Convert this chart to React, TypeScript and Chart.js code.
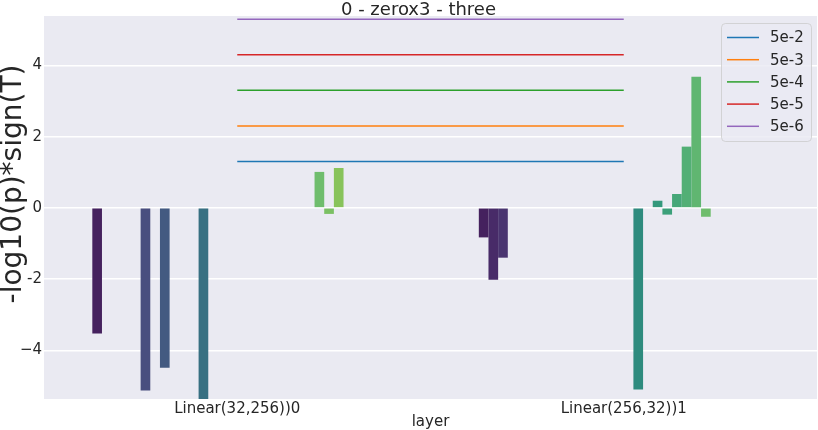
import React, { useEffect, useRef } from "react";
import { Chart, registerables } from "chart.js";

Chart.register(...registerables);

// ---------- data ----------
const categories = ["Linear(32,256))0", "Linear(256,32))1"];
const unitCount = 32;

// value per hue unit (index 0..31) for each layer; null = no bar
const layer0Values: (number | null)[] = [
  null, -3.53, null, null, null, null, -5.13, null,
  -4.49, null, null, null, -5.45, null, null, null,
  null, null, null, null, null, null, null, null,
  1.01, -0.17, 1.12, null, null, null, null, null,
];
const layer1Values: (number | null)[] = [
  null, -0.83, -2.02, -1.4, null, null, null, null,
  null, null, null, null, null, null, null, null,
  null, -5.1, null, 0.2, -0.19, 0.39, 1.72, 3.68,
  -0.25, null, null, null, null, null, null, null,
];

const thresholdLabels = ["5e-2", "5e-3", "5e-4", "5e-5", "5e-6"];
const thresholdValues = [1.301, 2.301, 3.301, 4.301, 5.301];

const yTickValues = [-4, -2, 0, 2, 4];
const yTickLabels = ["\u22124", "-2", "0", "2", "4"];

const titleText = "0 - zerox3 - three";
const xLabelText = "layer";
const yLabelText = "-log10(p)*sign(T)";

// ---------- styles ----------
const thresholdColors = ["#1f77b4", "#ff7f0e", "#2ca02c", "#d62728", "#9467bd"];
const FONT = "'DejaVu Sans', sans-serif";
const TEXT = "#262626";
const AX_BG = "#EAEAF2";

const viridisStops = [
  "#440154", "#471365", "#482475", "#463480", "#414487", "#3b528b", "#355f8d",
  "#2f6c8e", "#2a788e", "#25848e", "#21918c", "#1e9c89", "#22a884", "#2fb47c",
  "#44bf70", "#5ec962", "#7ad151", "#9bd93c", "#bddf26", "#dfe318", "#fde725",
];

function hexToRgb(h: string) {
  const n = parseInt(h.slice(1), 16);
  return [(n >> 16) & 255, (n >> 8) & 255, n & 255];
}

function viridis(t: number) {
  const p = t * (viridisStops.length - 1);
  const i = Math.min(Math.floor(p), viridisStops.length - 2);
  const f = p - i;
  const a = hexToRgb(viridisStops[i]);
  const b = hexToRgb(viridisStops[i + 1]);
  return [0, 1, 2].map((k) => (a[k] + (b[k] - a[k]) * f) / 255);
}

function desaturate(rgb: number[], prop: number) {
  const [r, g, b] = rgb;
  const max = Math.max(r, g, b), min = Math.min(r, g, b);
  const l = (max + min) / 2;
  let h = 0, s = 0;
  if (max !== min) {
    const d = max - min;
    s = l > 0.5 ? d / (2 - max - min) : d / (max + min);
    if (max === r) h = (g - b) / d + (g < b ? 6 : 0);
    else if (max === g) h = (b - r) / d + 2;
    else h = (r - g) / d + 4;
    h /= 6;
  }
  s *= prop;
  const hue2rgb = (p: number, q: number, t: number) => {
    if (t < 0) t += 1;
    if (t > 1) t -= 1;
    if (t < 1 / 6) return p + (q - p) * 6 * t;
    if (t < 1 / 2) return q;
    if (t < 2 / 3) return p + (q - p) * (2 / 3 - t) * 6;
    return p;
  };
  let out: number[];
  if (s === 0) out = [l, l, l];
  else {
    const q = l < 0.5 ? l * (1 + s) : l + s - l * s;
    const p = 2 * l - q;
    out = [hue2rgb(p, q, h + 1 / 3), hue2rgb(p, q, h), hue2rgb(p, q, h - 1 / 3)];
  }
  return `rgb(${out.map((v) => Math.round(v * 255)).join(",")})`;
}

function unitColor(i: number) {
  return desaturate(viridis((i + 1) / (unitCount + 1)), 0.75);
}

const decorPlugin = {
  id: "decor",
  beforeDraw(chart: any) {
    const { ctx, chartArea } = chart;
    ctx.save();
    ctx.fillStyle = "#ffffff";
    ctx.fillRect(0, 0, chart.width, chart.height);
    ctx.fillStyle = AX_BG;
    ctx.fillRect(chartArea.left, chartArea.top, chartArea.right - chartArea.left, chartArea.bottom - chartArea.top);
    ctx.restore();
  },
  afterDraw(chart: any) {
    const { ctx, chartArea } = chart;
    ctx.save();
    ctx.fillStyle = TEXT;
    // title
    ctx.font = `18px ${FONT}`;
    ctx.textAlign = "center";
    ctx.textBaseline = "alphabetic";
    ctx.fillText(titleText, 418.5, 15);
    // x label
    ctx.font = `15px ${FONT}`;
    ctx.fillText(xLabelText, (chartArea.left + chartArea.right) / 2, 426);
    // y label
    ctx.save();
    ctx.translate(21, 184);
    ctx.rotate(-Math.PI / 2);
    ctx.font = `28px ${FONT}`;
    ctx.fillText(yLabelText, 0, 0);
    ctx.restore();

    // legend
    const bx = 721.5, by = 23.5, bw = 90, bh = 118, r = 4;
    ctx.beginPath();
    ctx.moveTo(bx + r, by);
    ctx.lineTo(bx + bw - r, by);
    ctx.quadraticCurveTo(bx + bw, by, bx + bw, by + r);
    ctx.lineTo(bx + bw, by + bh - r);
    ctx.quadraticCurveTo(bx + bw, by + bh, bx + bw - r, by + bh);
    ctx.lineTo(bx + r, by + bh);
    ctx.quadraticCurveTo(bx, by + bh, bx, by + bh - r);
    ctx.lineTo(bx, by + r);
    ctx.quadraticCurveTo(bx, by, bx + r, by);
    ctx.closePath();
    ctx.fillStyle = "rgba(234,234,242,0.8)";
    ctx.fill();
    ctx.strokeStyle = "rgba(204,204,204,0.8)";
    ctx.lineWidth = 1;
    ctx.stroke();
    ctx.font = `15px ${FONT}`;
    ctx.textAlign = "left";
    ctx.textBaseline = "middle";
    thresholdLabels.forEach((lab, i) => {
      const y = 37.5 + i * 22.2;
      ctx.strokeStyle = thresholdColors[i];
      ctx.lineWidth = 1.5;
      ctx.beginPath();
      ctx.moveTo(727, y);
      ctx.lineTo(759, y);
      ctx.stroke();
      ctx.fillStyle = TEXT;
      ctx.fillText(lab, 770, y + 1);
    });
    ctx.restore();
  },
};

export default function App() {
  const ref = useRef<HTMLCanvasElement | null>(null);

  useEffect(() => {
    const canvas = ref.current;
    if (!canvas) return;
    Chart.defaults.font.family = FONT;

    const barSets = Array.from({ length: unitCount }, (_, i) => ({
      type: "bar" as const,
      label: `unit ${i}`,
      data: [layer0Values[i], layer1Values[i]],
      backgroundColor: unitColor(i),
      borderWidth: 0,
      categoryPercentage: 0.8,
      barPercentage: 1.0,
      order: 2,
    }));
    const lineSets = thresholdValues.map((v, i) => ({
      type: "line" as const,
      label: thresholdLabels[i],
      data: [v, v],
      borderColor: thresholdColors[i],
      backgroundColor: thresholdColors[i],
      borderWidth: 1.5,
      pointRadius: 0,
      fill: false,
      tension: 0,
      order: 1,
    }));

    const chart = new Chart(canvas, {
      type: "bar",
      data: { labels: categories, datasets: [...barSets, ...lineSets] as any },
      options: {
        responsive: false,
        animation: false,
        devicePixelRatio: 1,
        events: [],
        layout: { padding: { top: 16, right: 1, left: 0, bottom: 0 } },
        plugins: {
          legend: { display: false },
          title: { display: false },
          tooltip: { enabled: false },
        },
        scales: {
          x: {
            type: "category",
            offset: true,
            grid: { display: false, drawTicks: false },
            border: { display: false },
            ticks: { color: TEXT, font: { size: 15, family: FONT }, padding: 1, maxRotation: 0, autoSkip: false },
            afterFit: (s: any) => { s.height = 31; },
          },
          y: {
            type: "linear",
            min: -5.37,
            max: 5.39,
            grid: { color: "#ffffff", lineWidth: 1.4, drawTicks: false },
            border: { display: false },
            ticks: {
              color: TEXT,
              font: { size: 15, family: FONT },
              padding: 2,
              callback: (v: any) => {
                const k = yTickValues.indexOf(Number(v));
                return k >= 0 ? yTickLabels[k] : "";
              },
            },
            afterBuildTicks: (s: any) => {
              s.ticks = yTickValues.map((v) => ({ value: v }));
            },
            afterFit: (s: any) => { s.width = 44; },
          },
        },
      },
      plugins: [decorPlugin],
    });
    return () => chart.destroy();
  }, []);

  return (
    <div style={{ position: "fixed", left: 0, top: 0, width: 818, height: 430, background: "#fff" }}>
      <canvas ref={ref} width={818} height={430} style={{ display: "block", width: 818, height: 430 }} />
    </div>
  );
}
